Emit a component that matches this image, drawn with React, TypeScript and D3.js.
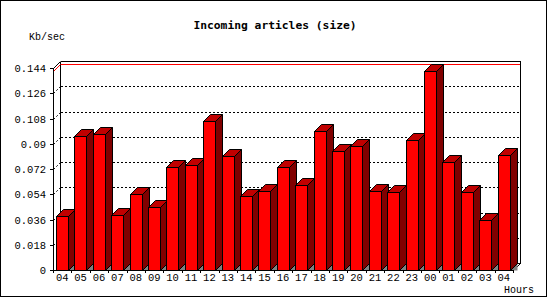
import React from "react";
import * as d3 from "d3";

const hours = ["04","05","06","07","08","09","10","11","12","13","14","15","16","17","18","19","20","21","22","23","00","01","02","03","04"];
const sizeValues = [0.0385,0.0955,0.0972,0.039,0.054,0.0447,0.0732,0.0746,0.106,0.081,0.0525,0.0561,0.0732,0.0604,0.0989,0.0848,0.0882,0.0561,0.0554,0.0924,0.1416,0.0768,0.0554,0.0356,0.0818];
const yTicks = [0,0.018,0.036,0.054,0.072,0.09,0.108,0.126,0.144];
const yTickLabels = ["0","0.018","0.036","0.054","0.072","0.09","0.108","0.126","0.144"];
const title = "Incoming articles (size)";
const yUnit = "Kb/sec";
const xUnit = "Hours";

const W = 550, H = 300;
const left = 53, right = 513, bottom = 270, top = 68, depth = 7;
const mono = "'Liberation Mono', monospace";
const monoBold = "'DejaVu Sans Mono', monospace";

export default function App() {
  const idx = hours.map((_, i) => String(i));
  const x = d3.scaleBand<string>().domain(idx).range([left, right]).paddingInner(0).paddingOuter(0);
  const y = d3.scaleLinear().domain([0, 0.144]).range([bottom, top]);
  const bw = x.bandwidth();
  const maxV = d3.max(sizeValues) as number;
  const yMax = Math.round(y(maxV));

  return (
    <svg width={W} height={H} style={{ position: "fixed", left: 0, top: 0, background: "#fff" }}>
      <rect x={0} y={0} width={W} height={H} fill="#fff" />
      <rect x={0.5} y={0.5} width={546} height={296} fill="none" stroke="#000" />
      <text x={275} y={29} textAnchor="middle" fontFamily={monoBold} fontWeight="bold" fontSize={11.3}>{title}</text>
      <text x={29} y={40} fontFamily={mono} fontSize={10}>{yUnit}</text>
      <text x={534} y={293} textAnchor="end" fontFamily={mono} fontSize={10}>{xUnit}</text>

      {/* back wall & frame */}
      <g shapeRendering="crispEdges" stroke="#000" fill="none">
        <line x1={left + depth + 0.5} y1={top - depth + 0.5} x2={right + depth + 0.5} y2={top - depth + 0.5} />
        <line x1={right + depth + 0.5} y1={top - depth + 0.5} x2={right + depth + 0.5} y2={bottom - depth + 0.5} />
        <line x1={left + depth + 0.5} y1={top - depth + 0.5} x2={left + depth + 0.5} y2={bottom - depth + 0.5} />
        <line x1={left + depth + 0.5} y1={bottom - depth + 0.5} x2={right + depth + 0.5} y2={bottom - depth + 0.5} />
      </g>
      {yTicks.slice(1, -1).map((t, i) => {
        const yy = Math.round(y(t));
        return (
          <g key={"g" + i} stroke="#000" fill="none">
            <line x1={left + depth + 1} y1={yy - depth + 0.5} x2={right + depth} y2={yy - depth + 0.5} strokeDasharray="2,2" shapeRendering="crispEdges" />
            <line x1={left + 0.5} y1={yy + 0.5} x2={left + depth + 0.5} y2={yy - depth + 0.5} strokeDasharray="2,2" />
          </g>
        );
      })}
      {/* max line */}
      <line x1={left + depth + 1} y1={yMax - depth + 0.5} x2={right + depth} y2={yMax - depth + 0.5} stroke="#f00" shapeRendering="crispEdges" />
      <line x1={left + 0.5} y1={yMax + 0.5} x2={left + depth + 0.5} y2={yMax - depth + 0.5} stroke="#f00" />

      {/* left wall/floor edges */}
      <g stroke="#000" fill="none">
        <line x1={left + 0.5} y1={top + 0.5} x2={left + depth + 0.5} y2={top - depth + 0.5} />
        <line x1={right + 0.5} y1={bottom + 0.5} x2={right + depth + 0.5} y2={bottom - depth + 0.5} />
      </g>

      {/* bars */}
      {sizeValues.map((v, i) => {
        const xl = Math.round((x(String(i)) as number) + 3) + 0.5;
        const xr = xl + 12;
        const yt = Math.round(y(v)) + 0.5;
        const yb = bottom + 0.5;
        return (
          <g key={"b" + i} stroke="#000" strokeWidth={1}>
            <polygon points={`${xr},${yb} ${xr + depth},${yb - depth} ${xr + depth},${yb}`} fill="#808080" stroke="none" />
            <polygon points={`${xr},${yt} ${xr + depth},${yt - depth} ${xr + depth},${yb - depth} ${xr},${yb}`} fill="#800000" />
            <polygon points={`${xl},${yt} ${xl + depth},${yt - depth} ${xr + depth},${yt - depth} ${xr},${yt}`} fill="#c00000" />
            <rect x={xl} y={yt} width={12} height={yb - yt} fill="#f00" />
          </g>
        );
      })}

      {/* front axes */}
      <g shapeRendering="crispEdges" stroke="#000">
        <line x1={left + 0.5} y1={top} x2={left + 0.5} y2={bottom + 1} />
        <line x1={left} y1={bottom + 0.5} x2={right + 1} y2={bottom + 0.5} />
        {yTicks.map((t, i) => (
          <line key={"yt" + i} x1={left - 3} y1={Math.round(y(t)) + 0.5} x2={left} y2={Math.round(y(t)) + 0.5} />
        ))}
        {idx.concat([String(hours.length)]).map((d, i) => {
          const xx = Math.round(i < hours.length ? (x(d) as number) : right) + 0.5;
          return <line key={"xt" + i} x1={xx} y1={bottom} x2={xx} y2={bottom + 3} />;
        })}
      </g>
      {yTicks.map((t, i) => (
        <text key={"yl" + i} x={46} y={Math.round(y(t)) + 4} textAnchor="end" fontFamily={mono} fontSize={10.5}>{yTickLabels[i]}</text>
      ))}
      {hours.map((h, i) => (
        <text key={"xl" + i} x={(x(String(i)) as number) + bw / 2} y={281} textAnchor="middle" fontFamily={mono} fontSize={10.5}>{h}</text>
      ))}
    </svg>
  );
}
